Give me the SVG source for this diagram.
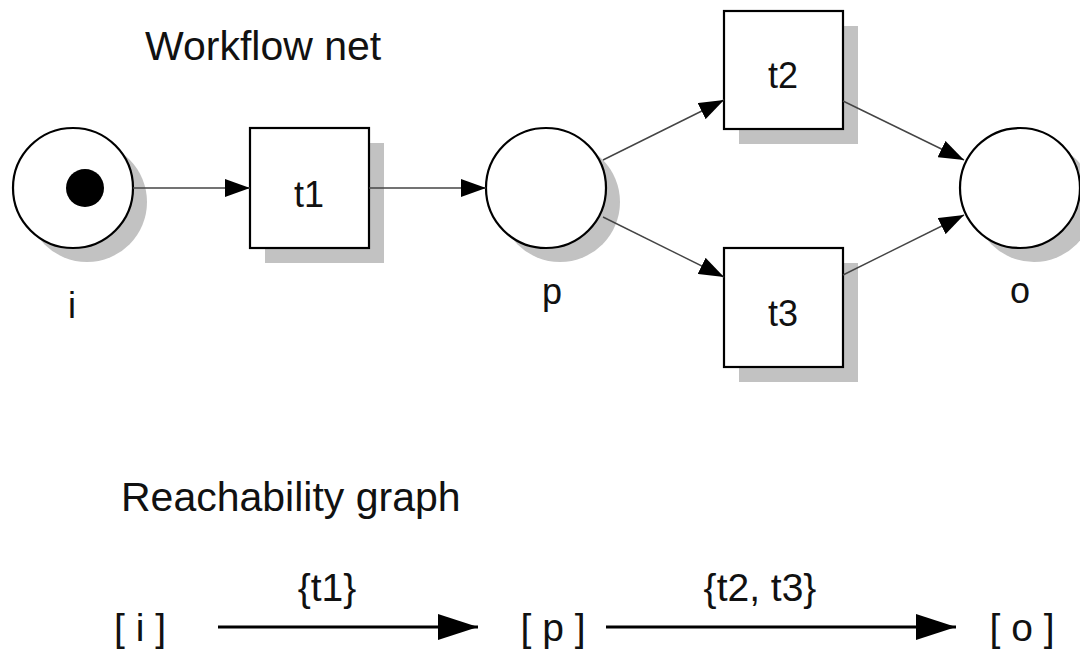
<svg xmlns="http://www.w3.org/2000/svg" width="1080" height="653" viewBox="0 0 1080 653">
<style>
  text { font-family: "Liberation Sans", Arial, Helvetica, sans-serif; fill: #111; }
  .title { font-size: 41px; }
  .lbl { font-size: 36px; text-anchor: middle; }
  .rg { font-size: 39px; text-anchor: middle; }
  .shadow { fill: #c2c2c2; stroke: none; }
  .node { fill: #fff; stroke: #000; stroke-width: 2.2; }
  .arc { fill: none; stroke: #444; stroke-width: 1.4; marker-end: url(#ah); }
  .rarc { fill: none; stroke: #000; stroke-width: 3; marker-end: url(#bh); }
</style>
<defs>
  <marker id="ah" markerWidth="25" markerHeight="18" refX="25" refY="9" orient="auto" markerUnits="userSpaceOnUse">
    <path d="M0,0 L25,9 L0,18 Z" fill="#000"/>
  </marker>
  <marker id="bh" markerWidth="40" markerHeight="26" refX="40" refY="13" orient="auto" markerUnits="userSpaceOnUse">
    <path d="M0,0 L40,13 L0,26 Z" fill="#000"/>
  </marker>
</defs>
<rect width="1080" height="653" fill="#fff"/>

<text class="title" x="145" y="60">Workflow net</text>
<text class="title" x="121" y="511">Reachability graph</text>

<g id="place-i">
  <circle class="shadow" cx="87" cy="202" r="60"/>
  <circle class="node" cx="73" cy="188" r="60"/>
  <circle cx="85" cy="188" r="19" fill="#000"/>
  <text class="lbl" x="72" y="318">i</text>
</g>
<g id="trans-t1">
  <rect class="shadow" x="265" y="143" width="119" height="120"/>
  <rect class="node" x="250" y="128" width="119" height="120"/>
  <text class="lbl" x="309" y="207">t1</text>
</g>
<g id="place-p">
  <circle class="shadow" cx="560" cy="202" r="60"/>
  <circle class="node" cx="546" cy="188" r="60"/>
  <text class="lbl" x="552" y="304">p</text>
</g>
<g id="trans-t2">
  <rect class="shadow" x="739" y="26" width="119" height="118"/>
  <rect class="node" x="724" y="11" width="119" height="118"/>
  <text class="lbl" x="783" y="88">t2</text>
</g>
<g id="trans-t3">
  <rect class="shadow" x="739" y="263" width="119" height="119"/>
  <rect class="node" x="724" y="248" width="119" height="119"/>
  <text class="lbl" x="783" y="326">t3</text>
</g>
<g id="place-o">
  <circle class="shadow" cx="1034" cy="202" r="60"/>
  <circle class="node" cx="1020" cy="188" r="60"/>
  <text class="lbl" x="1020" y="303">o</text>
</g>

<g id="connectors">
  <line class="arc" x1="133" y1="188" x2="250" y2="188"/>
  <line class="arc" x1="369" y1="188" x2="486" y2="188"/>
  <line class="arc" x1="603" y1="160" x2="724" y2="100"/>
  <line class="arc" x1="603" y1="217" x2="724" y2="277"/>
  <line class="arc" x1="843" y1="101" x2="964" y2="160"/>
  <line class="arc" x1="843" y1="275" x2="964" y2="215"/>
  <line class="rarc" x1="218" y1="627" x2="478" y2="627"/>
  <line class="rarc" x1="606" y1="627" x2="956" y2="627"/>
</g>

<g id="state-i"><text class="rg" x="140" y="641">[ i ]</text></g>
<g id="state-p"><text class="rg" x="553" y="641">[ p ]</text></g>
<g id="state-o"><text class="rg" x="1022" y="641">[ o ]</text></g>
<g id="edge-labels">
  <text class="rg" x="327" y="601">{t1}</text>
  <text class="rg" x="760" y="601">{t2, t3}</text>
</g>
</svg>
